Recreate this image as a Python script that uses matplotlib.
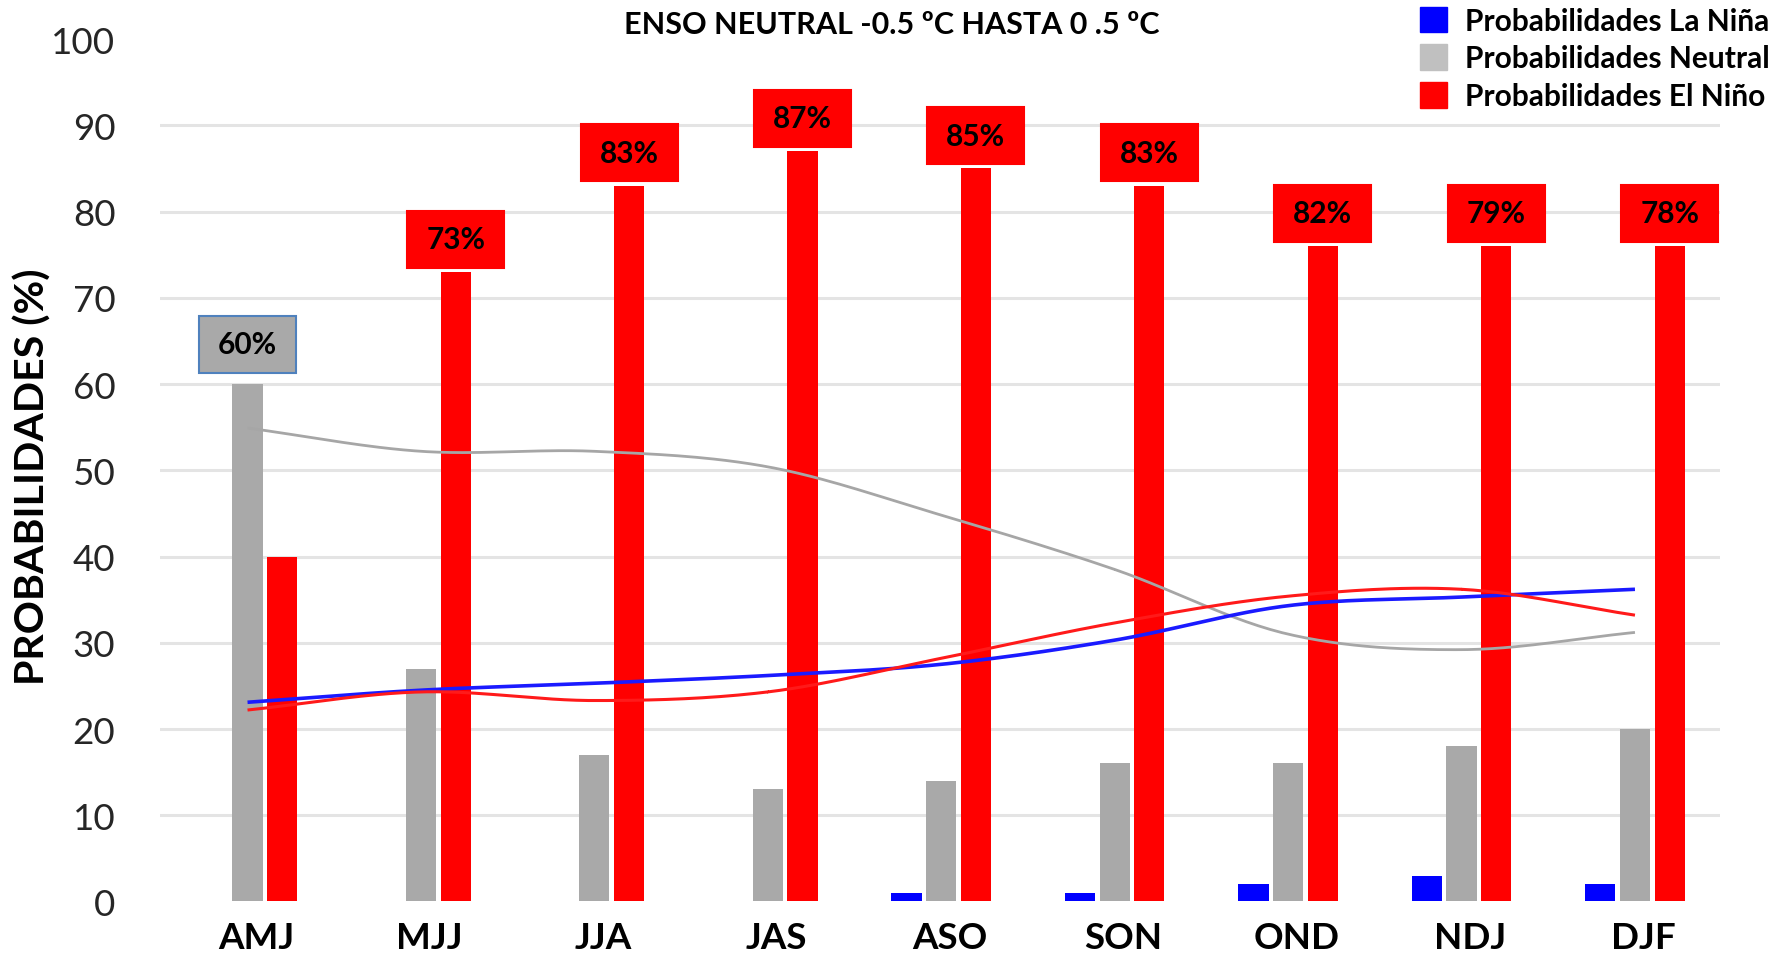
import numpy as np
import matplotlib.pyplot as plt
from matplotlib.patches import Patch, Rectangle

plt.rcParams['font.family'] = ['Lato', 'DejaVu Sans']

seasons = ["AMJ", "MJJ", "JJA", "JAS", "ASO", "SON", "OND", "NDJ", "DJF"]

# bar heights as drawn in the chart
lanina = [0, 0, 0, 0, 1, 1, 2, 3, 2]
neutral = [60, 27, 17, 13, 14, 16, 16, 18, 20]
elnino = [40, 73, 83, 87, 85, 83, 76, 76, 76]

# smoothed trend lines
lanina_line = [23.1, 24.5, 25.3, 26.2, 27.5, 30.3, 34.3, 35.3, 36.2]
neutral_line = [54.9, 52.2, 52.2, 50.4, 44.8, 38.5, 31.0, 29.2, 31.2]
elnino_line = [22.2, 24.3, 23.3, 24.3, 28.2, 32.3, 35.4, 36.2, 33.2]

# value labels (text differs from bar height for the last three)
label_text = ["60%", "73%", "83%", "87%", "85%", "83%", "82%", "79%", "78%"]

BLUE = "#0000ff"
GRAY = "#a9a9a9"
RED = "#ff0000"


def catmull_rom(xs, ys, n=30):
    # smooth curve through the points, like Excel's "smoothed line"
    xs = np.asarray(xs, float)
    ys = np.asarray(ys, float)
    px = np.concatenate([[2 * xs[0] - xs[1]], xs, [2 * xs[-1] - xs[-2]]])
    py = np.concatenate([[2 * ys[0] - ys[1]], ys, [2 * ys[-1] - ys[-2]]])
    out_x, out_y = [], []
    t = np.linspace(0, 1, n)
    for i in range(1, len(px) - 2):
        for p, out in ((px, out_x), (py, out_y)):
            p0, p1, p2, p3 = p[i - 1], p[i], p[i + 1], p[i + 2]
            out.extend(0.5 * ((2 * p1) + (-p0 + p2) * t
                              + (2 * p0 - 5 * p1 + 4 * p2 - p3) * t ** 2
                              + (-p0 + 3 * p1 - 3 * p2 + p3) * t ** 3))
    return np.array(out_x), np.array(out_y)


fig = plt.figure(figsize=(17.89, 9.54), dpi=100)
ax = fig.add_axes([0.0894, 0.054, 0.8720, 0.904])

x = np.arange(len(seasons))
w = 0.174
pitch = 0.20

ax.bar(x - pitch, lanina, w, color=BLUE, zorder=2)
ax.bar(x, neutral, w, color=GRAY, zorder=2)
ax.bar(x + pitch, elnino, w, color=RED, zorder=2)

for vals, col, lw in ((neutral_line, "#a6a6a6", 2.0),
                      (lanina_line, "#1a1aff", 2.6),
                      (elnino_line, "#ff1a1a", 2.2)):
    sx, sy = catmull_rom(x, vals)
    ax.plot(sx, sy, color=col, lw=lw, zorder=3, solid_capstyle="butt")

# value boxes
bw, bh = 0.56, 6.6
for i, txt in enumerate(label_text):
    if i == 0:
        cx, y0, fc, ec = x[i], neutral[i] + 1.3, GRAY, "#4f81bd"
    else:
        cx, y0, fc, ec = x[i] + pitch, elnino[i] + 0.5, RED, RED
    ax.add_patch(Rectangle((cx - bw / 2, y0), bw, bh, facecolor=fc,
                           edgecolor=ec, lw=1.5, zorder=4, clip_on=False))
    ax.text(cx, y0 + bh / 2, txt, ha="center", va="center", fontsize=21.5,
            fontweight="bold", color="black", zorder=5)

ax.set_xlim(-0.505, 8.49)
ax.set_ylim(0, 100)
ax.set_yticks(range(0, 101, 10))
ax.set_xticks(x + 0.05)
ax.set_xticklabels(seasons, fontsize=26.5, fontweight="bold")
ax.tick_params(axis="y", labelsize=26.5, labelcolor="#262626", length=0, pad=32)
ax.tick_params(axis="x", length=0, pad=14)
ax.grid(axis="y", color="#e4e4e4", lw=2.2, zorder=0)
ax.set_axisbelow(True)
gl = ax.yaxis.get_gridlines()
gl[0].set_visible(False)
gl[-1].set_visible(False)
for s in ax.spines.values():
    s.set_visible(False)

fig.text(0.0185, 0.50, "PROBABILIDADES (%)", rotation=90, ha="center",
         va="center", fontsize=29.6, fontweight="bold")

fig.text(0.4986, 0.974, "ENSO NEUTRAL -0.5 ºC HASTA 0 .5 ºC", ha="center",
         va="center", fontsize=22, fontweight="bold")

handles = [Patch(color=BLUE), Patch(color="#c0c0c0"), Patch(color=RED)]
names = ["Probabilidades La Niña", "Probabilidades Neutral",
         "Probabilidades El Niño"]
fig.legend(handles, names, loc="upper left", bbox_to_anchor=(1420 / 1789, 0.992),
           frameon=False, prop={"weight": "bold", "size": 21.5},
           handlelength=0.9, handleheight=0.95, handletextpad=0.62,
           labelspacing=0.32, borderpad=0, borderaxespad=0)

fig.savefig("out.png", dpi=100)
